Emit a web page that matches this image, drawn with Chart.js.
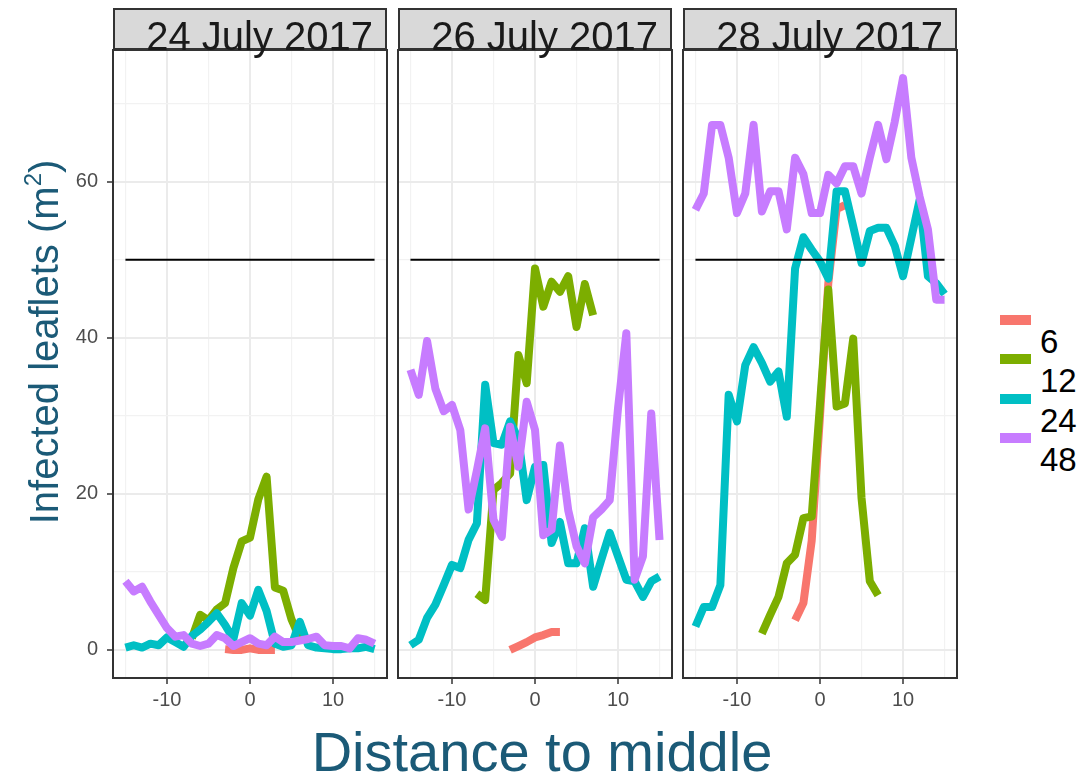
<!DOCTYPE html>
<html><head><meta charset="utf-8">
<script src="https://cdn.jsdelivr.net/npm/chart.js@4.4.0/dist/chart.umd.min.js"></script>
<style>
html,body{margin:0;padding:0;background:#fff;}
#wrap{position:relative;width:1089px;height:777px;overflow:hidden;font-family:"Liberation Sans",Arial,sans-serif;background:#fff;}
.pan{position:absolute;}
.strip{position:absolute;box-sizing:border-box;background:#D9D9D9;border:2px solid #333;height:42px;top:8px;z-index:5;}
.strip span{position:absolute;right:12px;top:6px;font-size:40px;line-height:40px;color:#1A1A1A;white-space:nowrap;}
#ytitle{position:absolute;left:-206px;top:320px;width:500px;text-align:center;font-size:40px;line-height:44px;color:#1B5A77;transform:rotate(-90deg);white-space:nowrap;}
#xtitle{position:absolute;left:242px;top:721px;width:600px;text-align:center;font-size:56px;line-height:62px;color:#1B5A77;white-space:nowrap;}
.key{position:absolute;left:1000px;width:31px;height:10px;}
.lab{position:absolute;left:1040px;font-size:33px;line-height:33px;color:#000;}
</style></head>
<body><div id="wrap">
<div class="pan" id="p0"><canvas id="c0"></canvas></div>
<div class="pan" id="p1"><canvas id="c1"></canvas></div>
<div class="pan" id="p2"><canvas id="c2"></canvas></div>
<div class="strip" id="s0"><span>24 July 2017</span></div>
<div class="strip" id="s1"><span>26 July 2017</span></div>
<div class="strip" id="s2"><span>28 July 2017</span></div>
<div id="ytitle">Infected leaflets (m<sup style="font-size:60%;vertical-align:0.7em;line-height:0">2</sup>)</div>
<div id="xtitle">Distance to middle</div>
<div id="legend"></div>
</div>
<script>
// ---------------- data ----------------
const PANEL_TITLES = ['24 July 2017', '26 July 2017', '28 July 2017'];
const SERIES_NAMES = ['6', '12', '24', '48'];
const SERIES_COLORS = ['#F8766D', '#7CAE00', '#00BFC4', '#C77CFF'];
const X_VALUES = [-15,-14,-13,-12,-11,-10,-9,-8,-7,-6,-5,-4,-3,-2,-1,0,1,2,3,4,5,6,7,8,9,10,11,12,13,14,15];
const X_TICK_LABELS = [-10, 0, 10];
const Y_TICK_LABELS = [0, 20, 40, 60];
const HLINE_X = [-15, 15];
const HLINE_Y = 50;

// 24 July 2017
const jul24_6  = [null,null,null,null,null,null,null,null,null,null,null,null,0.1,0.0,0.0,0.2,0.0,0.0,0.0,null,null,null,null,null,null,null,null,null,null,null,null];
const jul24_12 = [null,null,null,null,null,null,null,null,1.5,4.5,3.8,5.2,6.0,10.5,13.9,14.4,19.3,22.2,8.0,7.6,3.9,1.5,null,null,null,null,null,null,null,null,null];
const jul24_24 = [0.3,0.6,0.3,0.8,0.6,1.6,1.0,0.4,1.8,2.6,3.6,4.7,3.2,1.4,6.0,4.4,7.7,5.0,0.8,0.4,0.6,3.6,0.6,0.3,0.2,0.1,0.1,0.2,0.2,0.4,0.1];
const jul24_48 = [8.8,7.5,8.1,6.2,4.5,2.8,1.7,1.9,0.8,0.5,0.8,1.9,1.5,0.5,1.0,1.5,0.8,0.6,1.7,1.0,1.0,1.2,1.4,1.7,0.6,0.5,0.5,0.2,1.5,1.3,0.8];

// 26 July 2017
const jul26_6  = [null,null,null,null,null,null,null,null,null,null,null,null,0.0,0.5,1.0,1.6,1.9,2.3,2.3,null,null,null,null,null,null,null,null,null,null,null,null];
const jul26_12 = [null,null,null,null,null,null,null,null,7.2,6.4,20.5,21.4,22.6,37.8,34.2,48.9,44.0,47.2,45.9,47.9,41.4,46.9,42.9,null,null,null,null,null,null,null,null];
const jul26_24 = [0.6,1.3,4.1,5.8,8.3,10.9,10.5,14.1,16.2,34.0,26.5,26.3,29.3,27.0,19.2,23.5,23.7,13.7,16.4,11.1,11.1,15.6,8.1,11.6,15.0,12.0,9.0,8.8,6.8,8.8,9.4];
const jul26_48 = [35.9,32.7,39.6,33.5,30.6,31.4,28.2,18.0,23.0,28.4,16.7,14.5,28.6,23.5,31.8,28.2,14.7,15.4,26.2,17.9,13.3,11.1,17.0,18.0,19.2,31.0,40.6,9.0,12.0,30.3,14.1];

// 28 July 2017
const jul28_6  = [null,null,null,null,null,null,null,null,null,null,null,null,3.8,6.0,14.0,30.0,47.0,56.5,57.0,null,null,null,null,null,null,null,null,null,null,null,null];
const jul28_12 = [null,null,null,null,null,null,null,null,2.1,4.5,6.8,11.1,12.2,16.9,17.1,31.5,46.2,31.2,31.6,39.9,19.5,8.8,7.0,null,null,null,null,null,null,null,null];
const jul28_24 = [3.0,5.5,5.5,8.3,32.7,29.3,36.5,38.8,36.8,34.4,35.7,29.9,48.9,52.9,51.3,49.8,47.6,58.8,58.8,54.3,49.6,53.7,54.1,54.1,51.8,47.9,52.8,57.7,47.9,47.0,45.6];
const jul28_48 = [56.4,58.5,67.3,67.3,63.1,56.0,58.5,67.3,56.2,58.8,58.8,53.9,63.1,61.0,56.0,56.0,60.9,59.8,62.0,62.0,58.5,63.1,67.3,62.9,67.7,73.3,63.1,58.1,53.9,44.9,44.9];

const PANELS = [
  [jul24_6, jul24_12, jul24_24, jul24_48],
  [jul26_6, jul26_12, jul26_24, jul26_48],
  [jul28_6, jul28_12, jul28_24, jul28_48]
];

// ---------------- layout ----------------
const PANEL_LEFT = [113, 398, 683];
const PANEL_W = 274, PANEL_TOP = 50, PANEL_H = 628;
const AXW = 60, XH = 50, PADT = 4, PADR = 4;
const X_MIN = -16.5, X_MAX = 16.5, Y_MIN = -3.6, Y_MAX = 76.9;
const FONT = '"Liberation Sans", Arial, sans-serif';

const panelBorder = {
  id: 'panelBorder',
  afterDraw(chart) {
    const {ctx, chartArea: a} = chart;
    ctx.save();
    ctx.strokeStyle = '#333333';
    ctx.lineWidth = 2;
    ctx.strokeRect(a.left, a.top, a.right - a.left, a.bottom - a.top);
    ctx.restore();
  }
};

function fixAxis(size, horiz) {
  return function (s) {
    if (horiz) s.height = size; else s.width = size;
    s.paddingLeft = s.paddingRight = s.paddingTop = s.paddingBottom = 0;
  };
}

PANELS.forEach((series, p) => {
  const holder = document.getElementById('p' + p);
  const W = AXW + PANEL_W + PADR, H = PADT + PANEL_H + XH;
  holder.style.left = (PANEL_LEFT[p] - AXW) + 'px';
  holder.style.top = (PANEL_TOP - PADT) + 'px';
  holder.style.width = W + 'px';
  holder.style.height = H + 'px';
  const cv = document.getElementById('c' + p);
  cv.width = W; cv.height = H;
  cv.style.width = W + 'px'; cv.style.height = H + 'px';

  const datasets = [{
    label: 'hline',
    data: HLINE_X.map(x => ({x, y: HLINE_Y})),
    borderColor: '#000000', borderWidth: 2, pointRadius: 0, order: 0, clip: 0
  }];
  series.forEach((vals, k) => {
    datasets.push({
      label: SERIES_NAMES[k],
      data: X_VALUES.map((x, i) => ({x, y: vals[i]})),
      borderColor: SERIES_COLORS[k],
      borderWidth: 8,
      pointRadius: 0,
      tension: 0,
      spanGaps: false,
      borderJoinStyle: 'round',
      borderCapStyle: 'butt',
      order: 4 - k,
      clip: 0
    });
  });

  const isMajX = v => X_TICK_LABELS.includes(v);
  const isMajY = v => v % 20 === 0;

  new Chart(cv, {
    type: 'line',
    data: {datasets},
    plugins: [panelBorder],
    options: {
      responsive: false,
      animation: false,
      devicePixelRatio: 1,
      layout: {padding: {left: 0, top: PADT, right: PADR, bottom: 0}},
      plugins: {legend: {display: false}, tooltip: {enabled: false}, title: {display: false}},
      scales: {
        x: {
          type: 'linear', min: X_MIN, max: X_MAX,
          afterFit: fixAxis(XH, true),
          border: {display: false},
          ticks: {
            stepSize: 5, includeBounds: false, autoSkip: false, maxRotation: 0,
            callback: v => (X_TICK_LABELS.includes(v) ? String(v) : ''),
            color: '#4D4D4D', font: {family: FONT, size: 20}, padding: 4
          },
          grid: {
            color: c => (isMajX(c.tick.value) ? '#EBEBEB' : '#F2F2F2'),
            lineWidth: c => (isMajX(c.tick.value) ? 2 : 1.2),
            drawTicks: true, tickLength: 6, tickWidth: 1.5,
            tickColor: c => (isMajX(c.tick.value) ? '#333333' : 'rgba(0,0,0,0)')
          }
        },
        y: {
          type: 'linear', min: Y_MIN, max: Y_MAX,
          afterFit: fixAxis(AXW, false),
          border: {display: false},
          ticks: {
            display: p === 0,
            stepSize: 10, includeBounds: false, autoSkip: false,
            callback: v => (Y_TICK_LABELS.includes(v) ? String(v) : ''),
            color: '#4D4D4D', font: {family: FONT, size: 20}, padding: 9
          },
          grid: {
            color: c => (isMajY(c.tick.value) ? '#EBEBEB' : '#F2F2F2'),
            lineWidth: c => (isMajY(c.tick.value) ? 2 : 1.2),
            drawTicks: true, tickLength: 6, tickWidth: 1.5,
            tickColor: c => (p === 0 && Y_TICK_LABELS.includes(c.tick.value) ? '#333333' : 'rgba(0,0,0,0)')
          }
        }
      }
    }
  });

  const st = document.getElementById('s' + p);
  st.style.left = PANEL_LEFT[p] + 'px';
  st.style.width = PANEL_W + 'px';
  st.querySelector('span').textContent = PANEL_TITLES[p];
});

// legend
const KEY_TOP = [315, 354, 394, 433];
const leg = document.getElementById('legend');
SERIES_NAMES.forEach((n, k) => {
  const key = document.createElement('div');
  key.className = 'key';
  key.style.top = KEY_TOP[k] + 'px';
  key.style.background = SERIES_COLORS[k];
  leg.appendChild(key);
  const lab = document.createElement('div');
  lab.className = 'lab';
  lab.style.top = (KEY_TOP[k] + 10) + 'px';
  lab.textContent = n;
  leg.appendChild(lab);
});
</script>
</body></html>
